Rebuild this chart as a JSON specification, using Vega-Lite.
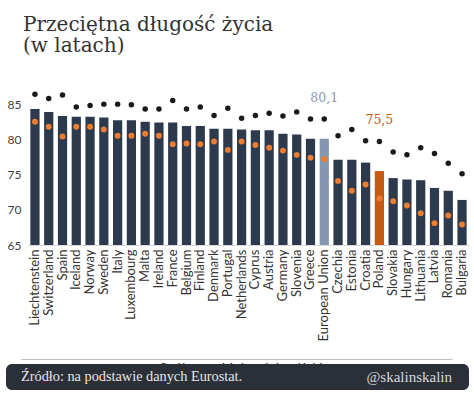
{
  "$schema": "https://vega.github.io/schema/vega-lite/v6.json",
  "background": "white",
  "padding": {"left": 6, "top": 15, "right": 5, "bottom": 5},
  "columns": 1,
  "align": "none",
  "bounds": "flush",
  "title": {
    "text": ["Przeciętna długość życia", "(w latach)"],
    "anchor": "start",
    "font": "DejaVu Serif",
    "fontSize": 20,
    "fontWeight": "normal",
    "color": "#333333",
    "lineHeight": 21,
    "offset": 27,
    "dx": 17
  },
  "config": {
    "locale": {"number": {"decimal": ",", "thousands": " ", "grouping": [3], "currency": ["", " zł"]}},
    "view": {"stroke": null}
  },
  "spacing": 119,
  "resolve": {
    "scale": {"color": "independent", "shape": "independent", "size": "independent"},
    "legend": {"color": "independent", "shape": "independent", "size": "independent"}
  },
  "concat": [
    {
      "width": 463,
      "height": 162,
      "data": {
        "values": [
          {"country": "Liechtenstein", "Ogółem": 84.3, "Mężczyźni": 82.5, "Kobiety": 86.4},
          {"country": "Switzerland", "Ogółem": 83.9, "Mężczyźni": 81.8, "Kobiety": 85.8},
          {"country": "Spain", "Ogółem": 83.3, "Mężczyźni": 80.4, "Kobiety": 86.3},
          {"country": "Iceland", "Ogółem": 83.2, "Mężczyźni": 81.8, "Kobiety": 84.6},
          {"country": "Norway", "Ogółem": 83.2, "Mężczyźni": 81.8, "Kobiety": 84.8},
          {"country": "Sweden", "Ogółem": 83.1, "Mężczyźni": 81.4, "Kobiety": 85.0},
          {"country": "Italy", "Ogółem": 82.7, "Mężczyźni": 80.5, "Kobiety": 85.0},
          {"country": "Luxembourg", "Ogółem": 82.7, "Mężczyźni": 80.5, "Kobiety": 84.9},
          {"country": "Malta", "Ogółem": 82.5, "Mężczyźni": 80.8, "Kobiety": 84.3},
          {"country": "Ireland", "Ogółem": 82.4, "Mężczyźni": 80.5, "Kobiety": 84.3},
          {"country": "France", "Ogółem": 82.4, "Mężczyźni": 79.3, "Kobiety": 85.5},
          {"country": "Belgium", "Ogółem": 81.9, "Mężczyźni": 79.4, "Kobiety": 84.3},
          {"country": "Finland", "Ogółem": 81.9, "Mężczyźni": 79.3, "Kobiety": 84.6},
          {"country": "Denmark", "Ogółem": 81.5, "Mężczyźni": 79.7, "Kobiety": 83.4},
          {"country": "Portugal", "Ogółem": 81.5, "Mężczyźni": 78.5, "Kobiety": 84.4},
          {"country": "Netherlands", "Ogółem": 81.4, "Mężczyźni": 79.7, "Kobiety": 83.0},
          {"country": "Cyprus", "Ogółem": 81.3, "Mężczyźni": 79.2, "Kobiety": 83.4},
          {"country": "Austria", "Ogółem": 81.3, "Mężczyźni": 78.8, "Kobiety": 83.7},
          {"country": "Germany", "Ogółem": 80.8, "Mężczyźni": 78.4, "Kobiety": 83.3},
          {"country": "Slovenia", "Ogółem": 80.7, "Mężczyźni": 77.8, "Kobiety": 83.9},
          {"country": "Greece", "Ogółem": 80.1, "Mężczyźni": 77.4, "Kobiety": 82.9},
          {"country": "European Union", "Ogółem": 80.1, "Mężczyźni": 77.2, "Kobiety": 82.9},
          {"country": "Czechia", "Ogółem": 77.1, "Mężczyźni": 74.1, "Kobiety": 80.5},
          {"country": "Estonia", "Ogółem": 77.1, "Mężczyźni": 72.7, "Kobiety": 81.4},
          {"country": "Croatia", "Ogółem": 76.7, "Mężczyźni": 73.6, "Kobiety": 79.8},
          {"country": "Poland", "Ogółem": 75.5, "Mężczyźni": 71.6, "Kobiety": 79.7},
          {"country": "Slovakia", "Ogółem": 74.5, "Mężczyźni": 71.2, "Kobiety": 78.2},
          {"country": "Hungary", "Ogółem": 74.3, "Mężczyźni": 70.6, "Kobiety": 77.8},
          {"country": "Lithuania", "Ogółem": 74.2, "Mężczyźni": 69.5, "Kobiety": 78.8},
          {"country": "Latvia", "Ogółem": 73.1, "Mężczyźni": 68.1, "Kobiety": 78.0},
          {"country": "Romania", "Ogółem": 72.7, "Mężczyźni": 69.2, "Kobiety": 76.6},
          {"country": "Bulgaria", "Ogółem": 71.4, "Mężczyźni": 67.9, "Kobiety": 75.1}
        ]
      },
      "encoding": {
        "x": {
          "field": "country",
          "type": "nominal",
          "sort": null,
          "scale": {"range": [22, 463], "paddingInner": 0.33, "paddingOuter": 0.17},
          "axis": {
            "title": null,
            "labelAngle": -90,
            "labelFont": "Lato",
            "labelFontSize": 13,
            "labelColor": "#333333",
            "labelPadding": 4,
            "ticks": false,
            "domain": true,
            "domainColor": "#d9d9d9"
          }
        }
      },
      "layer": [
        {
          "transform": [
            {"fold": ["Ogółem"], "as": ["series", "value"]}
          ],
          "mark": {"type": "bar"},
          "encoding": {
            "y": {
              "field": "value",
              "type": "quantitative",
              "scale": {"domain": [65, 88], "nice": false, "zero": false, "clamp": true},
              "axis": {
                "title": null,
                "values": [65, 70, 75, 80, 85],
                "grid": false,
                "ticks": false,
                "domain": false,
                "labelFont": "Lato",
                "labelFontSize": 12,
                "labelColor": "#404040",
                "labelAlign": "left",
                "labelPadding": -1
              }
            },
            "y2": {"datum": 65},
            "color": {
              "field": "series",
              "type": "nominal",
              "scale": {
                "domain": ["Ogółem", "Mężczyźni", "Kobiety"],
                "range": ["#2d3a4d", "#ed7d31", "#1a1a1a"]
              },
              "legend": {
                "title": null,
                "orient": "none",
                "legendX": 136,
                "legendY": 280,
                "direction": "horizontal",
                "labelFont": "Lato",
                "labelFontSize": 12.5,
                "labelColor": "#333333",
                "columnPadding": 2,
                "labelOffset": 4,
                "symbolStrokeWidth": 0
              },
              "condition": [
                {"test": "datum.country === 'European Union'", "value": "#8497b0"},
                {"test": "datum.country === 'Poland'", "value": "#c55a11"}
              ]
            }
          }
        },
        {
          "transform": [
            {"fold": ["Mężczyźni", "Kobiety"], "as": ["series", "value"]}
          ],
          "mark": {"type": "point", "filled": true, "opacity": 1},
          "encoding": {
            "y": {"field": "value", "type": "quantitative"},
            "color": {"field": "series", "type": "nominal"},
            "shape": {
              "field": "series",
              "type": "nominal",
              "scale": {
                "domain": ["Ogółem", "Mężczyźni", "Kobiety"],
                "range": ["square", "circle", "circle"]
              }
            },
            "size": {
              "field": "series",
              "type": "ordinal",
              "scale": {
                "domain": ["Ogółem", "Mężczyźni", "Kobiety"],
                "range": [40, 30, 16]
              }
            }
          }
        },
        {
          "transform": [
            {"filter": "datum.country === 'European Union' || datum.country === 'Poland'"}
          ],
          "mark": {"type": "text", "font": "DejaVu Serif", "fontSize": 12.5, "dy": -21, "baseline": "middle"},
          "encoding": {
            "y": {"field": "Kobiety", "type": "quantitative"},
            "text": {"field": "Ogółem", "type": "quantitative", "format": ".1f"},
            "color": {
              "condition": {"test": "datum.country === 'Poland'", "value": "#c55a11"},
              "value": "#8c9bb0"
            },
            "fontWeight": {
              "condition": {"test": "datum.country === 'Poland'", "value": "bold"},
              "value": "normal"
            }
          }
        }
      ]
    },
    {
      "width": 463,
      "height": 26,
      "view": {"fill": "#2a2f38", "cornerRadius": 6, "stroke": null},
      "data": {
        "values": [
          {"side": "left", "label": "Źródło: na podstawie danych Eurostat."},
          {"side": "right", "label": "@skalinskalin"}
        ]
      },
      "encoding": {
        "x": {
          "field": "side",
          "type": "nominal",
          "scale": {"type": "point", "domain": ["left", "right"], "range": [15, 446], "padding": 0},
          "axis": {
            "orient": "top",
            "title": null,
            "labels": false,
            "ticks": false,
            "domain": true,
            "domainColor": "#bfbfbf",
            "domainWidth": 1,
            "offset": 5
          }
        },
        "text": {"field": "label"}
      },
      "layer": [
        {
          "transform": [{"filter": "datum.side === 'left'"}],
          "mark": {"type": "text", "align": "left", "baseline": "middle", "font": "Liberation Serif", "fontSize": 14.3, "color": "#e6e6e6"}
        },
        {
          "transform": [{"filter": "datum.side === 'right'"}],
          "mark": {"type": "text", "align": "right", "baseline": "middle", "font": "Liberation Serif", "fontSize": 15, "color": "#d9d9d9"}
        }
      ]
    }
  ]
}
